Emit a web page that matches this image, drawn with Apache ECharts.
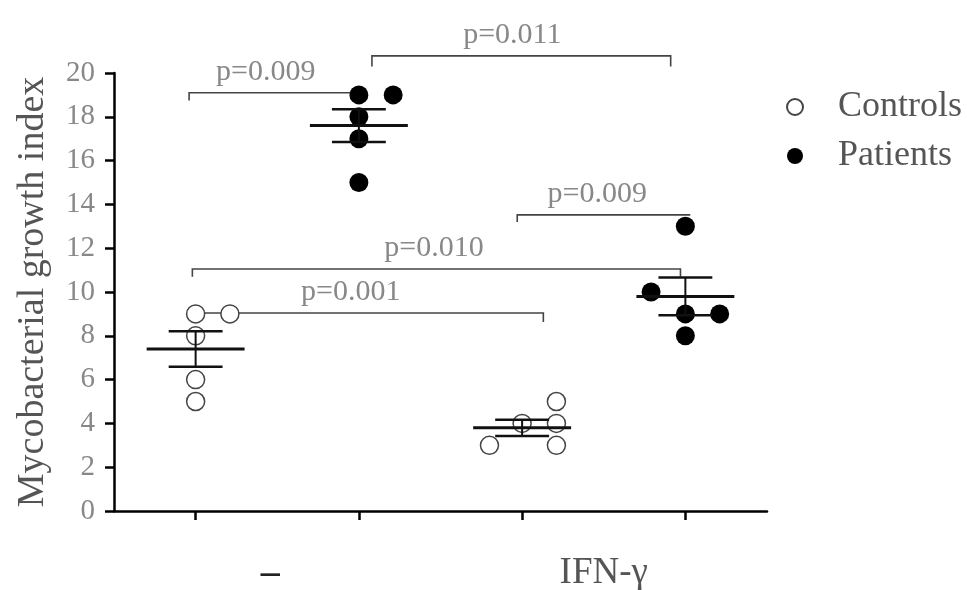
<!DOCTYPE html>
<html>
<head>
<meta charset="utf-8">
<script src="https://cdn.jsdelivr.net/npm/echarts@6/dist/echarts.min.js"></script>
<style>
  html, body { margin: 0; padding: 0; background: #fff; }
  #main { width: 967px; height: 590px; }
</style>
</head>
<body>
<div id="main"></div>
<script>
// group positions on the x axis: 1 = controls (-), 2 = patients (-), 3 = controls (IFN-γ), 4 = patients (IFN-γ)
var groupLabels = ['\u2013', 'IFN-\u03b3'];
var yTicks = [0, 2, 4, 6, 8, 10, 12, 14, 16, 18, 20];

// individual values (x is the group position with the plot's horizontal spread)
var controlsX = [1, 1.21, 1, 1, 1, 2.80, 3, 3.21, 3.21, 3.21];
var controlsY = [9, 9, 8, 6, 5, 3, 4, 5, 4, 3];
var patientsX = [2, 2.21, 2, 2, 2, 4, 3.79, 4, 4.21, 4];
var patientsY = [19, 19, 18, 17, 15, 13, 10, 9, 9, 8];

// mean and SEM per group
var groupPos = [1, 2, 3, 4];
var means = [7.4, 17.6, 3.8, 9.8];
var sems = [0.81, 0.75, 0.37, 0.86];

// significance brackets: [x1, x2, y, left drop to, right drop to, label, label x]
var brackets = [
    [0.96, 2.0, 19.1, 18.75, null, 'p=0.009', 1.43],
    [2.08, 3.91, 20.78, 20.3, 20.3, 'p=0.011', 2.94],
    [2.97, 4.03, 13.52, 13.2, null, 'p=0.009', 3.46],
    [0.98, 3.97, 11.05, 10.7, 10.7, 'p=0.010', 2.46],
    [1.0, 3.13, 9.04, null, 8.63, 'p=0.001', 1.95]
];

var serif = '"Liberation Serif", "DejaVu Serif", serif';

var myChart = echarts.init(document.getElementById('main'));

function pairs(xs, ys) {
    return xs.map(function (x, i) { return [x, ys[i]]; });
}

myChart.setOption({
    animation: false,
    backgroundColor: '#fff',
    grid: { left: 114, right: 200, top: 73, bottom: 79, outerBoundsMode: 'none', containLabel: false },
    legend: {
        orient: 'vertical',
        left: 781,
        top: 84,
        itemWidth: 16,
        itemHeight: 16,
        itemGap: 13,
        data: ['Controls', 'Patients'],
        textStyle: { fontFamily: serif, fontSize: 36, color: '#555', padding: [0, 0, 0, 30] }
    },
    xAxis: {
        type: 'value',
        min: 0.5,
        max: 4.5,
        splitLine: { show: false },
        axisLine: { lineStyle: { color: '#000', width: 2.5 } },
        axisTick: { show: true, customValues: groupPos, length: 9, lineStyle: { color: '#000', width: 2.5 } },
        axisLabel: {
            customValues: [1.5, 3.5],
            margin: 44,
            fontFamily: serif,
            fontSize: 37,
            color: '#555',
            formatter: function (v) { return v < 2 ? '{d|' + groupLabels[0] + '}' : groupLabels[1]; },
            rich: {
                d: { fontFamily: serif, fontSize: 38, fontWeight: 'bold', color: '#222', padding: [0, 14, 0, 0] }
            }
        }
    },
    yAxis: {
        type: 'value',
        min: 0,
        max: 20,
        interval: 2,
        name: 'Mycobacterial growth index',
        nameLocation: 'middle',
        nameGap: 62,
        nameTextStyle: { fontFamily: serif, fontSize: 38, color: '#555' },
        splitLine: { show: false },
        axisLine: { show: true, lineStyle: { color: '#000', width: 2.5 } },
        axisTick: { show: true, length: 9, lineStyle: { color: '#000', width: 2.5 } },
        axisLabel: {
            margin: 19,
            fontFamily: serif,
            fontSize: 29,
            color: '#888',
            customValues: yTicks
        }
    },
    series: [
        {
            name: 'Controls',
            type: 'scatter',
            symbol: 'circle',
            symbolSize: 18,
            z: 3,
            itemStyle: { color: '#fff', borderColor: '#444', borderWidth: 1.5, opacity: 1 },
            data: pairs(controlsX, controlsY)
        },
        {
            name: 'Patients',
            type: 'scatter',
            symbol: 'circle',
            symbolSize: 19,
            z: 3,
            itemStyle: { color: '#000', opacity: 1 },
            data: pairs(patientsX, patientsY)
        },
        {
            type: 'custom',
            z: 4,
            silent: true,
            data: groupPos.map(function (x, i) { return [x, means[i], sems[i]]; }),
            renderItem: function (params, api) {
                var x = api.value(0), m = api.value(1), s = api.value(2);
                function seg(x1, y1, x2, y2, w) {
                    var a = api.coord([x1, y1]), b = api.coord([x2, y2]);
                    return { type: 'line', shape: { x1: a[0], y1: a[1], x2: b[0], y2: b[1] },
                        style: { stroke: '#111', lineWidth: w } };
                }
                return {
                    type: 'group',
                    children: [
                        seg(x - 0.3, m, x + 0.3, m, 3),
                        seg(x - 0.165, m + s, x + 0.165, m + s, 2.5),
                        seg(x - 0.165, m - s, x + 0.165, m - s, 2.5),
                        seg(x, m - s, x, m + s, 2)
                    ]
                };
            }
        },
        {
            type: 'custom',
            z: 2,
            silent: true,
            data: brackets.map(function (b, i) { return [b[0], b[1], b[2], i]; }),
            renderItem: function (params, api) {
                var b = brackets[params.dataIndex];
                var pts = [];
                if (b[3] !== null) pts.push(api.coord([b[0], b[3]]));
                pts.push(api.coord([b[0], b[2]]));
                pts.push(api.coord([b[1], b[2]]));
                if (b[4] !== null) pts.push(api.coord([b[1], b[4]]));
                var lab = api.coord([b[6], b[2]]);
                return {
                    type: 'group',
                    children: [
                        { type: 'polyline', shape: { points: pts },
                          style: { stroke: '#444', lineWidth: 1.6, fill: null } },
                        { type: 'text', x: lab[0], y: lab[1] - 6,
                          style: { text: b[5], fontFamily: serif, fontSize: 30, fill: '#888',
                                   align: 'center', verticalAlign: 'bottom' } }
                    ]
                };
            }
        }
    ]
});
</script>
</body>
</html>
